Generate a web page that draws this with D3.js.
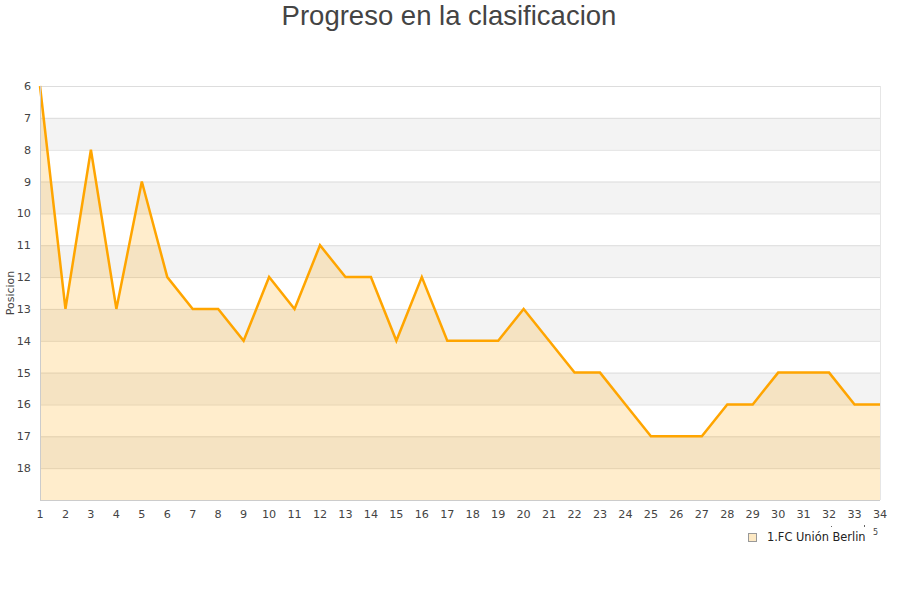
<!DOCTYPE html>
<html><head><meta charset="utf-8">
<script src="https://cdn.jsdelivr.net/npm/d3@7"></script>
<style>body{margin:0;background:#fff}</style>
</head><body><svg id="c" width="900" height="600"></svg>
<script>
const jornadas = d3.range(1, 35);
const posiciones = [6,13,8,13,9,12,13,13,14,12,13,11,12,12,14,12,14,14,14,13,14,15,15,16,17,17,17,16,16,15,15,15,16,16];
const yTicks = [6,7,8,9,10,11,12,13,14,15,16,17,18];
const seriesName = "1.FC Unión Berlin";
const title = "Progreso en la clasificacion";
const yLabel = "Posicion";

const svg = d3.select("#c");
const m = {l:40, r:880, t:86, b:500};
const x = d3.scaleLinear().domain([1,34]).range([m.l, m.r]);
const y = d3.scaleLinear().domain([6,19]).range([m.t, m.b]);

const bands = d3.range(6,19);
svg.append("g").selectAll("rect").data(bands).join("rect")
  .attr("x", m.l).attr("width", m.r-m.l)
  .attr("y", d=>y(d)).attr("height", d=>y(d+1)-y(d))
  .attr("fill", d=> (d%2===1) ? "#f3f3f3" : "#ffffff");
svg.append("g").selectAll("line").data(d3.range(6,19)).join("line")
  .attr("x1", m.l).attr("x2", m.r)
  .attr("y1", d=>y(d)+0.5).attr("y2", d=>y(d)+0.5)
  .attr("stroke", "#dddddd");
svg.append("line").attr("x1", m.r+0.5).attr("x2", m.r+0.5).attr("y1", m.t).attr("y2", m.b).attr("stroke","#e6e6e6");

const data = jornadas.map((j,i)=>({j, p:posiciones[i]}));
svg.append("path").datum(data)
  .attr("d", d3.area().x(d=>x(d.j)).y0(m.b).y1(d=>y(d.p)))
  .attr("fill", "rgba(255,165,0,0.2)");
svg.append("path").datum(data)
  .attr("d", d3.line().x(d=>x(d.j)).y(d=>y(d.p)))
  .attr("fill", "none").attr("stroke", "#ffa500").attr("stroke-width", 2.5).attr("stroke-linejoin","miter");

svg.append("line").attr("x1", m.l+0.5).attr("x2", m.l+0.5).attr("y1", m.t).attr("y2", m.b).attr("stroke","#cccccc");
svg.append("line").attr("x1", m.l).attr("x2", m.r).attr("y1", m.b+0.5).attr("y2", m.b+0.5).attr("stroke","#cccccc");

const font = "DejaVu Sans, sans-serif";
svg.append("g").selectAll("text").data(yTicks).join("text")
  .attr("x", 31).attr("y", d=>y(d)+4).attr("text-anchor","end")
  .attr("font-family", font).attr("font-size", 11.2).attr("fill", "#444")
  .text(d=>d);
svg.append("g").selectAll("text").data(jornadas).join("text")
  .attr("x", d=>x(d)).attr("y", 518).attr("text-anchor","middle")
  .attr("font-family", font).attr("font-size", 11.2).attr("fill", "#444")
  .text(d=>d);

svg.append("text").attr("transform", "translate(14,293) rotate(-90)")
  .attr("text-anchor","middle").attr("font-family", font).attr("font-size", 11).attr("fill","#444")
  .text(yLabel);

svg.append("text").attr("x", 449).attr("y", 25).attr("text-anchor","middle")
  .attr("font-family", "Liberation Sans, Arial, sans-serif").attr("font-size", 27.5).attr("fill","#444")
  .text(title);

svg.append("rect").attr("x", 748.5).attr("y", 533.5).attr("width", 8).attr("height", 8)
  .attr("fill", "#fde9c4").attr("stroke", "#999");
svg.append("text").attr("x", 767).attr("y", 541).attr("font-family", font).attr("font-size", 11.4).attr("fill","#222")
  .text(seriesName);
svg.append("text").attr("x", 873).attr("y", 535).attr("font-family", font).attr("font-size", 8).attr("fill","#444").text("5");
svg.append("rect").attr("x", 831).attr("y", 526).attr("width", 1).attr("height", 1).attr("fill","#666");
svg.append("rect").attr("x", 864).attr("y", 525).attr("width", 1).attr("height", 2).attr("fill","#666");
</script></body></html>
